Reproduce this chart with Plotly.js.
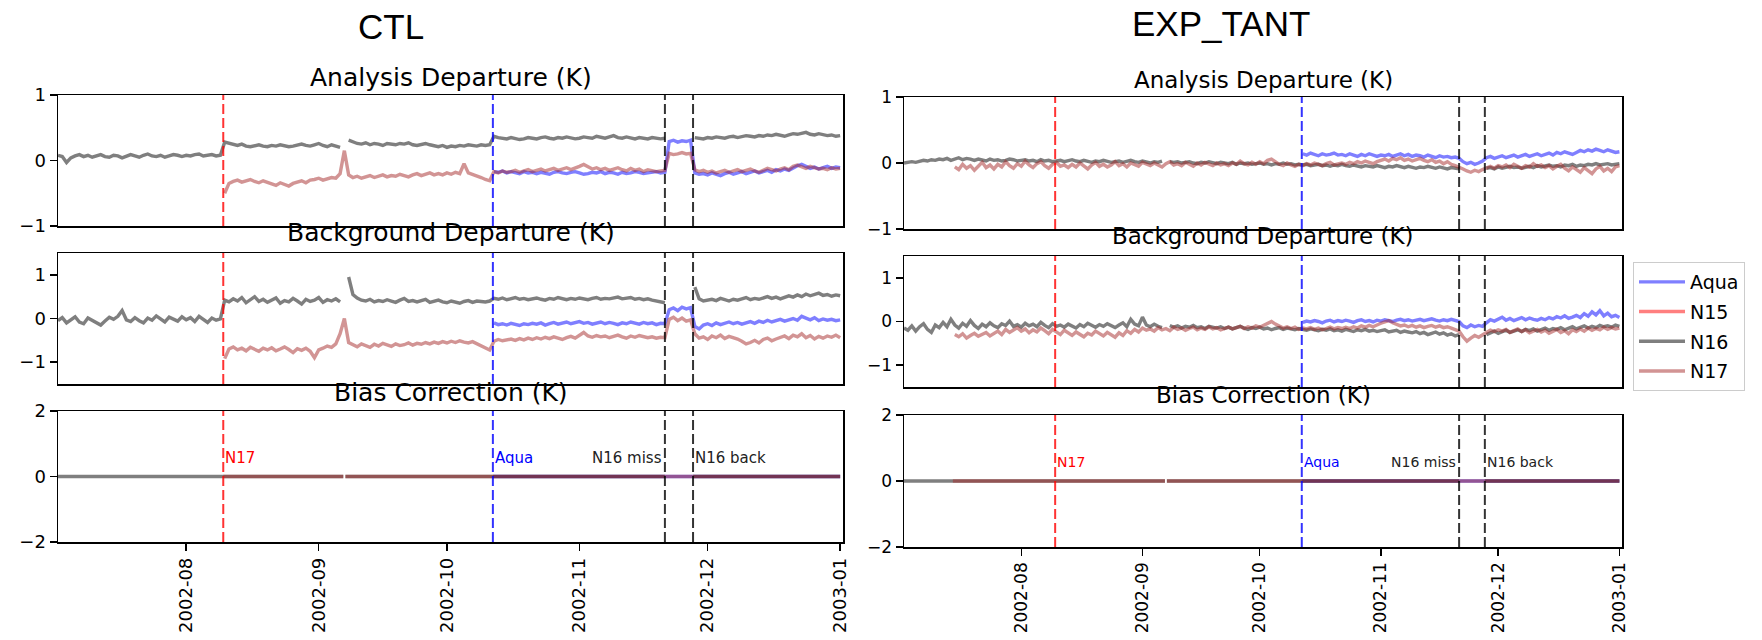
<!DOCTYPE html>
<html><head><meta charset="utf-8">
<script src="https://cdn.plot.ly/plotly-3.0.1.min.js"></script>
<style>html,body{margin:0;padding:0;background:#fff;}#chart{width:1762px;height:640px;}</style>
</head><body><div id="chart"></div>
<script>
// ---------------- DATA ----------------
const N16_START = '2002-07-02';
const N17_CTL_START = '2002-08-10';
const N17_EXP_START = '2002-07-15';
const AQUA_START = '2002-10-12';

// CTL - Analysis Departure (K)
const ctlAnaN16 = [
0.08,0.06,-0.03,0.04,0.07,0.09,0.06,0.08,0.05,0.07,
0.09,0.06,0.05,0.08,0.07,0.04,0.06,0.09,0.07,0.05,
0.08,0.10,0.07,0.06,0.08,0.05,0.07,0.09,0.08,0.06,
0.08,0.07,0.09,0.10,0.07,0.08,0.09,0.07,0.08,0.28,
0.26,0.24,0.23,0.25,0.22,0.21,0.23,0.24,0.22,0.21,
0.23,0.22,0.24,0.23,0.21,0.22,0.24,0.25,0.23,0.22,
0.24,0.26,0.23,0.21,0.24,0.22,0.20,null,0.31,0.28,
0.26,0.25,0.27,0.24,0.26,0.25,0.23,0.26,0.25,0.24,
0.26,0.25,0.27,0.24,0.23,0.25,0.26,0.24,0.22,0.21,
0.23,0.20,0.22,0.21,0.23,0.22,0.24,0.23,0.22,0.24,
0.23,0.24,0.37,0.35,0.34,0.33,0.35,0.34,0.32,0.33,
0.35,0.34,0.33,0.35,0.36,0.34,0.33,0.35,0.34,0.36,
0.35,0.33,0.34,0.36,0.35,0.34,0.37,0.35,0.34,0.36,
0.38,0.35,0.34,0.36,0.35,0.33,0.35,0.34,0.33,0.35,
0.34,0.33,0.34,null,null,null,null,null,null,0.35,
0.34,0.33,0.35,0.34,0.36,0.35,0.34,0.36,0.37,0.35,
0.36,0.38,0.37,0.36,0.38,0.37,0.39,0.38,0.40,0.38,
0.37,0.39,0.41,0.40,0.42,0.43,0.40,0.39,0.41,0.40,
0.38,0.39,0.37,0.38];
const ctlAnaN17 = [
-0.50,-0.35,-0.32,-0.30,-0.33,-0.31,-0.29,-0.32,-0.34,-0.31,
-0.33,-0.36,-0.38,-0.34,-0.37,-0.39,-0.35,-0.33,-0.31,-0.34,
-0.30,-0.29,-0.27,-0.30,-0.28,-0.26,-0.27,-0.20,0.15,-0.22,
-0.26,-0.24,-0.27,-0.25,-0.23,-0.26,-0.24,-0.22,-0.25,-0.23,
-0.24,-0.21,-0.23,-0.25,-0.22,-0.20,-0.23,-0.21,-0.19,-0.22,
-0.20,-0.22,-0.19,-0.21,-0.18,-0.20,-0.05,-0.19,-0.21,-0.24,
-0.26,-0.29,-0.31,-0.17,-0.19,-0.16,-0.18,-0.17,-0.15,-0.18,
-0.16,-0.14,-0.17,-0.15,-0.13,-0.16,-0.14,-0.12,-0.15,-0.13,
-0.11,-0.14,-0.12,-0.09,-0.06,-0.10,-0.13,-0.11,-0.14,-0.12,
-0.15,-0.13,-0.11,-0.14,-0.16,-0.12,-0.15,-0.13,-0.17,-0.14,
-0.15,-0.17,-0.16,-0.15,0.11,0.09,0.10,0.12,0.10,0.11,
-0.14,-0.17,-0.15,-0.18,-0.16,-0.19,-0.17,-0.15,-0.18,-0.16,
-0.14,-0.17,-0.15,-0.13,-0.16,-0.18,-0.15,-0.12,-0.14,-0.16,
-0.13,-0.11,-0.14,-0.09,-0.07,-0.10,-0.12,-0.09,-0.11,-0.13,
-0.12,-0.14,-0.11,-0.13,-0.12];
const ctlAnaAqua = [
-0.17,-0.18,-0.16,-0.19,-0.17,-0.18,-0.20,-0.17,-0.19,-0.18,
-0.20,-0.18,-0.19,-0.21,-0.18,-0.17,-0.19,-0.20,-0.18,-0.17,
-0.19,-0.21,-0.20,-0.18,-0.19,-0.17,-0.20,-0.18,-0.19,-0.21,
-0.18,-0.20,-0.19,-0.17,-0.18,-0.20,-0.19,-0.18,-0.17,-0.19,
-0.18,0.29,0.31,0.28,0.30,0.29,0.31,-0.19,-0.21,-0.20,
-0.22,-0.19,-0.21,-0.23,-0.20,-0.18,-0.21,-0.19,-0.17,-0.20,
-0.18,-0.16,-0.19,-0.17,-0.15,-0.18,-0.14,-0.16,-0.13,-0.15,
-0.11,-0.08,-0.06,-0.09,-0.12,-0.10,-0.13,-0.11,-0.09,-0.12,
-0.10,-0.11];

// CTL - Background Departure (K)
const ctlBgN16 = [
-0.05,0.02,-0.10,-0.03,0.04,-0.08,-0.12,0.01,-0.04,-0.09,
-0.15,-0.06,0.03,-0.02,0.05,0.18,-0.03,-0.07,0.02,-0.05,
-0.10,0.01,-0.04,0.06,-0.02,-0.08,0.03,-0.01,-0.06,0.04,
-0.03,0.02,-0.07,0.05,-0.02,-0.09,0.01,-0.04,-0.01,0.42,
0.38,0.45,0.40,0.48,0.36,0.42,0.50,0.39,0.44,0.37,
0.43,0.47,0.35,0.41,0.38,0.46,0.40,0.33,0.44,0.39,
0.42,0.48,0.37,0.43,0.40,0.45,0.38,null,0.95,0.55,
0.47,0.42,0.40,0.44,0.38,0.41,0.39,0.43,0.40,0.37,
0.42,0.46,0.39,0.41,0.38,0.40,0.44,0.37,0.39,0.42,
0.38,0.36,0.40,0.38,0.35,0.39,0.41,0.37,0.40,0.39,
0.38,0.40,0.46,0.44,0.47,0.43,0.45,0.48,0.44,0.46,
0.43,0.45,0.47,0.44,0.42,0.46,0.44,0.48,0.45,0.43,
0.46,0.44,0.47,0.45,0.43,0.46,0.48,0.44,0.46,0.45,
0.47,0.49,0.45,0.46,0.48,0.44,0.46,0.43,0.45,0.42,
0.40,0.38,0.36,null,null,null,null,null,null,0.72,
0.45,0.40,0.42,0.44,0.41,0.46,0.43,0.40,0.44,0.42,
0.45,0.48,0.43,0.46,0.44,0.47,0.50,0.46,0.49,0.45,
0.48,0.52,0.49,0.54,0.50,0.56,0.52,0.55,0.58,0.53,
0.55,0.51,0.54,0.52];
const ctlBgN17 = [
-0.92,-0.70,-0.65,-0.72,-0.68,-0.74,-0.66,-0.70,-0.75,-0.68,
-0.72,-0.67,-0.74,-0.70,-0.65,-0.71,-0.78,-0.69,-0.73,-0.68,
-0.75,-0.90,-0.72,-0.68,-0.63,-0.66,-0.58,-0.35,0.00,-0.55,
-0.60,-0.65,-0.58,-0.62,-0.66,-0.59,-0.63,-0.57,-0.61,-0.64,
-0.58,-0.62,-0.60,-0.56,-0.61,-0.57,-0.59,-0.55,-0.58,-0.54,
-0.57,-0.53,-0.56,-0.52,-0.55,-0.51,-0.54,-0.56,-0.53,-0.58,
-0.62,-0.66,-0.72,-0.52,-0.48,-0.51,-0.49,-0.47,-0.50,-0.46,
-0.49,-0.45,-0.48,-0.44,-0.47,-0.43,-0.46,-0.42,-0.45,-0.48,
-0.44,-0.41,-0.45,-0.38,-0.32,-0.40,-0.43,-0.39,-0.42,-0.40,
-0.44,-0.41,-0.38,-0.42,-0.45,-0.40,-0.43,-0.39,-0.41,-0.44,
-0.42,-0.45,-0.43,-0.44,-0.02,0.03,-0.05,0.01,-0.06,-0.03,
-0.35,-0.45,-0.42,-0.48,-0.40,-0.44,-0.38,-0.46,-0.41,-0.43,
-0.47,-0.52,-0.58,-0.55,-0.50,-0.56,-0.48,-0.45,-0.51,-0.47,
-0.43,-0.40,-0.46,-0.38,-0.42,-0.35,-0.44,-0.39,-0.47,-0.41,
-0.45,-0.40,-0.43,-0.38,-0.44];
const ctlBgAqua = [
-0.10,-0.14,-0.12,-0.15,-0.11,-0.13,-0.16,-0.12,-0.14,-0.11,
-0.13,-0.10,-0.15,-0.12,-0.09,-0.13,-0.11,-0.08,-0.12,-0.10,
-0.07,-0.11,-0.09,-0.13,-0.10,-0.08,-0.12,-0.09,-0.11,-0.14,
-0.10,-0.12,-0.08,-0.11,-0.13,-0.09,-0.12,-0.10,-0.14,-0.11,
-0.12,0.20,0.24,0.18,0.26,0.22,0.25,-0.18,-0.24,-0.15,
-0.12,-0.16,-0.10,-0.14,-0.11,-0.08,-0.12,-0.09,-0.13,-0.10,
-0.07,-0.11,-0.06,-0.09,-0.04,-0.08,-0.05,-0.02,-0.06,-0.03,
0.00,-0.04,0.05,0.01,-0.03,0.02,-0.05,-0.01,-0.04,-0.02,
-0.05,-0.03];

// EXP_TANT - Analysis Departure (K)
const expAnaN16 = [
0.00,0.01,0.02,0.01,0.03,0.04,0.03,0.05,0.04,0.06,
0.05,0.07,0.04,0.06,0.08,0.05,0.07,0.06,0.04,0.06,
0.05,0.03,0.06,0.04,0.05,0.03,0.04,0.06,0.05,0.03,
0.04,0.05,0.03,0.04,0.02,0.05,0.03,0.04,0.02,0.03,
0.04,0.02,0.03,0.05,0.03,0.02,0.04,0.03,0.01,0.03,
0.02,0.04,0.03,0.01,0.02,0.03,0.01,0.02,0.04,0.02,
0.01,0.03,0.02,0.00,0.02,0.01,0.03,null,0.02,0.01,
0.02,0.00,0.01,0.02,0.00,-0.01,0.01,0.00,0.02,0.00,
-0.01,0.01,0.00,-0.01,0.01,-0.02,0.00,-0.01,0.00,-0.02,
-0.01,0.00,-0.02,-0.01,-0.03,-0.01,-0.02,0.00,-0.02,-0.01,
-0.03,-0.02,-0.03,-0.02,-0.04,-0.03,-0.02,-0.04,-0.03,-0.05,
-0.03,-0.04,-0.02,-0.04,-0.05,-0.03,-0.04,-0.06,-0.04,-0.05,
-0.06,-0.04,-0.05,-0.07,-0.05,-0.06,-0.04,-0.06,-0.07,-0.05,
-0.06,-0.08,-0.06,-0.07,-0.05,-0.07,-0.08,-0.06,-0.07,-0.09,
-0.07,-0.08,-0.09,null,null,null,null,null,null,-0.08,
-0.07,-0.09,-0.06,-0.08,-0.07,-0.05,-0.07,-0.06,-0.08,-0.06,
-0.05,-0.07,-0.04,-0.06,-0.05,-0.03,-0.05,-0.04,-0.06,-0.03,
-0.04,-0.02,-0.05,-0.03,-0.04,-0.02,-0.03,-0.01,-0.03,-0.02,
-0.01,-0.03,-0.02,-0.01];
const expAnaN17 = [
-0.06,-0.10,-0.02,-0.08,-0.04,-0.11,-0.05,0.01,-0.07,-0.03,
-0.09,-0.02,-0.06,0.02,-0.04,-0.08,-0.01,-0.05,0.03,-0.03,
-0.07,-0.01,0.02,-0.04,-0.08,-0.02,0.01,-0.05,-0.03,-0.07,
-0.02,-0.06,0.00,-0.04,-0.09,-0.03,0.01,-0.05,-0.02,-0.06,
-0.03,0.02,-0.04,-0.01,-0.06,0.00,-0.03,-0.05,0.01,-0.02,
-0.04,0.00,-0.03,-0.06,-0.01,0.02,-0.03,-0.01,-0.04,0.01,
-0.02,-0.05,0.00,-0.03,0.01,-0.02,-0.04,0.00,-0.03,-0.01,
-0.04,0.00,-0.02,0.03,-0.01,-0.03,0.01,-0.02,0.02,-0.01,
0.04,0.06,0.02,-0.02,-0.04,0.00,-0.03,-0.05,-0.02,-0.04,
-0.01,-0.03,0.00,-0.02,-0.04,-0.01,0.01,-0.03,-0.02,0.00,
-0.02,0.01,-0.01,0.02,0.00,0.03,0.01,-0.01,0.02,0.04,
0.06,0.03,0.07,0.05,0.08,0.04,0.06,0.03,0.05,0.07,
0.04,0.02,0.05,0.01,0.03,-0.01,0.02,-0.02,-0.04,-0.06,
-0.09,-0.12,-0.14,-0.11,-0.13,-0.10,-0.07,-0.05,-0.08,-0.04,
-0.06,-0.03,-0.07,-0.02,-0.05,-0.08,-0.04,-0.06,-0.01,-0.05,
-0.03,-0.07,-0.04,-0.09,-0.05,-0.02,-0.08,-0.12,-0.06,-0.10,
-0.14,-0.07,-0.11,-0.16,-0.09,-0.05,-0.12,-0.08,-0.13,-0.06,
-0.04];
const expAnaAqua = [
0.14,0.12,0.15,0.13,0.11,0.14,0.12,0.13,0.15,0.12,
0.13,0.11,0.14,0.12,0.10,0.13,0.11,0.14,0.12,0.10,
0.12,0.11,0.13,0.10,0.12,0.14,0.11,0.13,0.10,0.12,
0.11,0.09,0.12,0.10,0.08,0.11,0.09,0.10,0.08,0.09,
0.07,0.02,-0.01,0.01,-0.02,0.00,0.03,0.08,0.10,0.07,
0.09,0.11,0.08,0.10,0.12,0.09,0.11,0.13,0.10,0.12,
0.14,0.11,0.13,0.15,0.12,0.16,0.14,0.17,0.15,0.13,
0.16,0.19,0.17,0.20,0.18,0.21,0.19,0.17,0.20,0.18,
0.16,0.17];

// EXP_TANT - Background Departure (K)
const expBgN16 = [
-0.15,-0.20,-0.10,-0.22,-0.12,-0.05,-0.18,-0.25,-0.08,-0.14,
-0.02,-0.12,0.05,-0.08,-0.15,-0.04,-0.11,0.02,-0.09,-0.16,
-0.06,-0.12,-0.03,-0.10,-0.14,-0.05,-0.09,0.01,-0.11,-0.07,
-0.13,-0.04,-0.10,-0.06,-0.12,-0.02,-0.09,-0.14,-0.05,-0.11,
-0.08,-0.13,-0.06,-0.10,-0.15,-0.07,-0.12,-0.04,-0.09,-0.13,
-0.07,-0.11,-0.05,-0.10,-0.14,-0.08,-0.03,-0.12,0.05,-0.06,
-0.10,0.10,-0.08,-0.12,-0.06,-0.11,-0.14,null,-0.09,-0.13,
-0.10,-0.15,-0.11,-0.13,-0.09,-0.14,-0.12,-0.16,-0.11,-0.13,
-0.15,-0.12,-0.16,-0.13,-0.17,-0.14,-0.11,-0.15,-0.18,-0.14,
-0.16,-0.13,-0.17,-0.15,-0.19,-0.16,-0.14,-0.18,-0.15,-0.17,
-0.19,-0.16,-0.18,-0.20,-0.17,-0.19,-0.21,-0.18,-0.20,-0.17,
-0.21,-0.19,-0.22,-0.18,-0.20,-0.23,-0.19,-0.21,-0.18,-0.22,
-0.20,-0.23,-0.21,-0.19,-0.24,-0.22,-0.20,-0.25,-0.22,-0.24,
-0.26,-0.23,-0.28,-0.25,-0.30,-0.27,-0.24,-0.29,-0.26,-0.31,
-0.28,-0.33,-0.30,null,null,null,null,null,null,-0.30,
-0.26,-0.22,-0.27,-0.24,-0.20,-0.25,-0.22,-0.19,-0.23,-0.18,
-0.21,-0.17,-0.22,-0.19,-0.15,-0.20,-0.16,-0.18,-0.14,-0.19,
-0.15,-0.12,-0.17,-0.13,-0.10,-0.15,-0.11,-0.14,-0.09,-0.12,
-0.10,-0.13,-0.08,-0.11];
const expBgN17 = [
-0.30,-0.35,-0.28,-0.38,-0.32,-0.27,-0.34,-0.30,-0.25,-0.33,
-0.28,-0.22,-0.30,-0.18,-0.25,-0.20,-0.14,-0.22,-0.17,-0.26,
-0.19,-0.24,-0.15,-0.21,-0.28,-0.18,-0.23,-0.30,-0.20,-0.26,
-0.32,-0.24,-0.29,-0.35,-0.27,-0.31,-0.22,-0.28,-0.33,-0.25,
-0.30,-0.36,-0.26,-0.32,-0.21,-0.27,-0.18,-0.24,-0.15,-0.20,
-0.17,-0.22,-0.14,-0.19,-0.16,-0.21,-0.13,-0.18,-0.15,-0.20,
-0.16,-0.13,-0.19,-0.15,-0.18,-0.12,-0.17,-0.14,-0.19,-0.16,
-0.13,-0.17,-0.14,-0.11,-0.16,-0.12,-0.15,-0.10,-0.13,-0.08,
-0.04,0.00,-0.06,-0.11,-0.15,-0.12,-0.16,-0.13,-0.18,-0.15,
-0.17,-0.14,-0.18,-0.15,-0.19,-0.16,-0.13,-0.17,-0.14,-0.16,
-0.13,-0.16,-0.12,-0.15,-0.10,-0.13,-0.09,-0.12,-0.07,-0.04,
-0.01,0.02,-0.03,-0.07,-0.10,-0.08,-0.12,-0.09,-0.13,-0.10,
-0.14,-0.11,-0.09,-0.13,-0.10,-0.14,-0.12,-0.15,-0.18,-0.22,
-0.35,-0.45,-0.38,-0.32,-0.36,-0.30,-0.24,-0.20,-0.23,-0.19,
-0.22,-0.18,-0.25,-0.20,-0.17,-0.23,-0.19,-0.26,-0.21,-0.18,
-0.24,-0.20,-0.27,-0.22,-0.18,-0.25,-0.21,-0.28,-0.19,-0.23,
-0.17,-0.22,-0.15,-0.20,-0.16,-0.19,-0.13,-0.18,-0.14,-0.17,
-0.15];
const expBgAqua = [
-0.02,0.01,-0.01,0.02,0.00,-0.03,0.01,0.03,-0.01,0.02,
0.00,0.03,0.01,-0.02,0.02,0.04,0.00,0.02,-0.01,0.03,
0.01,0.04,0.02,0.00,0.03,0.05,0.02,0.04,0.01,0.03,
0.05,0.02,0.04,0.06,0.03,0.01,0.04,0.02,0.05,0.03,
0.00,-0.10,-0.14,-0.08,-0.12,-0.09,-0.11,-0.03,0.04,0.01,
0.05,0.10,0.03,0.07,0.02,0.06,0.09,0.04,0.08,0.05,
0.03,0.07,0.04,0.09,0.06,0.11,0.08,0.13,0.07,0.10,
0.14,0.09,0.18,0.12,0.22,0.15,0.25,0.13,0.19,0.11,
0.14,0.09];

// Bias Correction (K): flat at zero, with the observed data gaps
const biasN16Dates = ['2002-07-02','2002-09-06 18:00','2002-09-07 00:00','2002-09-07 06:00','2002-11-21 00:00','2002-11-24 00:00','2002-11-27 14:00','2003-01-01'];
const biasN16 = [0,0,null,0,0,null,0,0];
const biasCtlN17Dates = ['2002-08-09 16:00','2002-09-06 18:00','2002-09-07 00:00','2002-09-07 06:00','2003-01-01'];
const biasExpN17Dates = ['2002-07-14 12:00','2002-09-06 18:00','2002-09-07 00:00','2002-09-07 06:00','2003-01-01'];
const biasN17 = [0,0,null,0,0];
const biasAquaDates = ['2002-10-11 18:00','2003-01-01'];
const biasAqua = [0,0];

// Events
const eventDates = ['2002-08-09 16:00','2002-10-11 18:00','2002-11-21 00:00','2002-11-27 14:00'];
const eventLabels = ['N17','Aqua','N16 miss','N16 back'];
const monthTicks = ['2002-08-01','2002-09-01','2002-10-01','2002-11-01','2002-12-01','2003-01-01'];
const monthLabels = ['2002-08','2002-09','2002-10','2002-11','2002-12','2003-01'];
const seriesNames = ['Aqua','N15','N16','N17'];
const panelTitles = ['Analysis Departure (K)','Background Departure (K)','Bias Correction (K)'];

// ---------------- BUILD ----------------
function dailyDates(start, n){
  const t0 = Date.parse(start + 'T00:00:00Z');
  const out = [];
  for (let i=0;i<n;i++) out.push(new Date(t0 + i*86400000).toISOString().slice(0,10));
  return out;
}
const COL = {Aqua:'rgba(0,0,255,0.5)', N15:'rgba(255,0,0,0.5)', N16:'rgba(0,0,0,0.5)', N17:'rgba(165,42,42,0.5)'};
const EVCOL = ['rgba(255,0,0,0.8)','rgba(0,0,255,0.8)','rgba(0,0,0,0.8)','rgba(0,0,0,0.8)'];
const TXTCOL = ['#ff0000','#0000ff','#222222','#222222'];
const LW = 3.4;
const traces = [];
function line(ax, x, y, name, legend){
  traces.push({type:'scatter', mode:'lines', x:x, y:y, xaxis:'x'+ax.x, yaxis:'y'+ax.y, name:name,
    line:{color:COL[name], width:LW}, connectgaps:false, showlegend:!!legend, hoverinfo:'skip',
    legendgroup: legend ? 'g_'+name : undefined, legendrank: seriesNames.indexOf(name)+1});
}
const P = {
  ctlAna:{x:'',y:''}, ctlBg:{x:'2',y:'2'}, ctlBias:{x:'3',y:'3'},
  expAna:{x:'4',y:'4'}, expBg:{x:'5',y:'5'}, expBias:{x:'6',y:'6'}
};
// CTL analysis
line(P.ctlAna, dailyDates(AQUA_START, ctlAnaAqua.length), ctlAnaAqua, 'Aqua', true);
traces.push({type:'scatter', mode:'lines', x:[null], y:[null], xaxis:'x', yaxis:'y', name:'N15', line:{color:COL.N15, width:LW}, showlegend:true, legendgroup:'g_N15', legendrank:2, hoverinfo:'skip'});
line(P.ctlAna, dailyDates(N16_START, ctlAnaN16.length), ctlAnaN16, 'N16', true);
line(P.ctlAna, dailyDates(N17_CTL_START, ctlAnaN17.length), ctlAnaN17, 'N17', true);
// CTL background
line(P.ctlBg, dailyDates(AQUA_START, ctlBgAqua.length), ctlBgAqua, 'Aqua');
line(P.ctlBg, dailyDates(N16_START, ctlBgN16.length), ctlBgN16, 'N16');
line(P.ctlBg, dailyDates(N17_CTL_START, ctlBgN17.length), ctlBgN17, 'N17');
// CTL bias
line(P.ctlBias, biasAquaDates, biasAqua, 'Aqua');
line(P.ctlBias, biasN16Dates, biasN16, 'N16');
line(P.ctlBias, biasCtlN17Dates, biasN17, 'N17');
// EXP analysis
line(P.expAna, dailyDates(AQUA_START, expAnaAqua.length), expAnaAqua, 'Aqua');
line(P.expAna, dailyDates(N16_START, expAnaN16.length), expAnaN16, 'N16');
line(P.expAna, dailyDates(N17_EXP_START, expAnaN17.length), expAnaN17, 'N17');
// EXP background
line(P.expBg, dailyDates(AQUA_START, expBgAqua.length), expBgAqua, 'Aqua');
line(P.expBg, dailyDates(N16_START, expBgN16.length), expBgN16, 'N16');
line(P.expBg, dailyDates(N17_EXP_START, expBgN17.length), expBgN17, 'N17');
// EXP bias
line(P.expBias, biasAquaDates, biasAqua, 'Aqua');
line(P.expBias, biasN16Dates, biasN16, 'N16');
line(P.expBias, biasExpN17Dates, biasN17, 'N17');

// ---------------- LAYOUT ----------------
const W = 1762, H = 640;
const px = v => v / W, py = v => 1 - v / H;
const xRange = ['2002-07-02 00:00','2003-01-01 16:00'];
const FONT = 'DejaVu Sans';
const leftX = [px(58), px(843)], rightX = [px(904), px(1622)];
const doms = {
  '':  {x:leftX,  y:[py(226), py(95)]},
  '2': {x:leftX,  y:[py(384), py(253)]},
  '3': {x:leftX,  y:[py(542), py(411)]},
  '4': {x:rightX, y:[py(229), py(97)]},
  '5': {x:rightX, y:[py(387), py(256)]},
  '6': {x:rightX, y:[py(547), py(415)]}
};
const yr = {'':[-1,1],'2':[-1.5,1.5],'3':[-2,2],'4':[-1,1],'5':[-1.5,1.5],'6':[-2,2]};
const yt = {'':[-1,0,1],'2':[-1,0,1],'3':[-2,0,2],'4':[-1,0,1],'5':[-1,0,1],'6':[-2,0,2]};
const layout = {
  width:W, height:H, margin:{l:0,r:0,t:0,b:0}, paper_bgcolor:'#fff', plot_bgcolor:'#fff',
  showlegend:true,
  legend:{x:px(1633), y:py(262), xanchor:'left', yanchor:'top', bgcolor:'#fff', bordercolor:'#cccccc', borderwidth:1,
    font:{family:FONT, size:19, color:'#000'}, traceorder:'grouped', tracegroupgap:2, itemwidth:46},
  shapes:[], annotations:[]
};
Object.keys(doms).forEach(k => {
  const bottom = (k==='3' || k==='6');
  const right = (k==='4'||k==='5'||k==='6');
  const tfs = right ? 17 : 18;
  layout['xaxis'+k] = {domain:doms[k].x, anchor:'y'+k, type:'date', range:xRange, showgrid:false, zeroline:false,
    showline:true, mirror:true, linecolor:'#000', linewidth:1.5,
    ticks: bottom ? 'outside' : '', ticklen:7, tickwidth:1.5, tickcolor:'#000',
    showticklabels:bottom, tickvals:monthTicks, ticktext:monthLabels, tickangle:-90,
    tickfont:{family:FONT, size:tfs, color:'#000'}};
  layout['yaxis'+k] = {domain:doms[k].y, anchor:'x'+k, range:yr[k], showgrid:false, zeroline:false,
    showline:true, mirror:true, linecolor:'#000', linewidth:1.5,
    ticks:'outside', ticklen:7, tickwidth:1.5, tickcolor:'#000', tickvals:yt[k],
    tickfont:{family:FONT, size:tfs, color:'#000'}};
  eventDates.forEach((d,i) => {
    layout.shapes.push({type:'line', xref:'x'+k, yref:'y'+k+' domain', x0:d, x1:d, y0:0, y1:1,
      line:{color:EVCOL[i], width:2, dash:'10px,4px'}, layer:'above'});
  });
});
['3','6'].forEach(k => {
  const fs = k==='3' ? 15 : 14;
  eventDates.forEach((d,i) => {
    layout.annotations.push({xref:'x'+k, yref:'y'+k, x:d, y:0.58, text:eventLabels[i], showarrow:false,
      xanchor: i===2 ? 'right' : 'left', yanchor:'middle', xshift: i===2 ? -1 : 0,
      font:{family:FONT, size:fs, color:TXTCOL[i]}});
  });
});
const titleY = {left:[78,233,392], right:[80,236,395]};
panelTitles.forEach((t,i) => {
  layout.annotations.push({xref:'paper', yref:'paper', x:px(450.5), y:py(titleY.left[i]), text:t, showarrow:false,
    xanchor:'center', yanchor:'middle', font:{family:FONT, size:25, color:'#000'}});
  layout.annotations.push({xref:'paper', yref:'paper', x:px(1263), y:py(titleY.right[i]), text:t, showarrow:false,
    xanchor:'center', yanchor:'middle', font:{family:FONT, size:23, color:'#000'}});
});
layout.annotations.push({xref:'paper', yref:'paper', x:px(391), y:py(26), text:'CTL', showarrow:false,
  xanchor:'center', yanchor:'middle', font:{family:'Liberation Sans', size:35, color:'#000'}});
layout.annotations.push({xref:'paper', yref:'paper', x:px(1221), y:py(24), text:'EXP_TANT', showarrow:false,
  xanchor:'center', yanchor:'middle', font:{family:'Liberation Sans', size:35, color:'#000'}});

Plotly.newPlot('chart', traces, layout, {displayModeBar:false, staticPlot:true});
</script>
</body></html>
